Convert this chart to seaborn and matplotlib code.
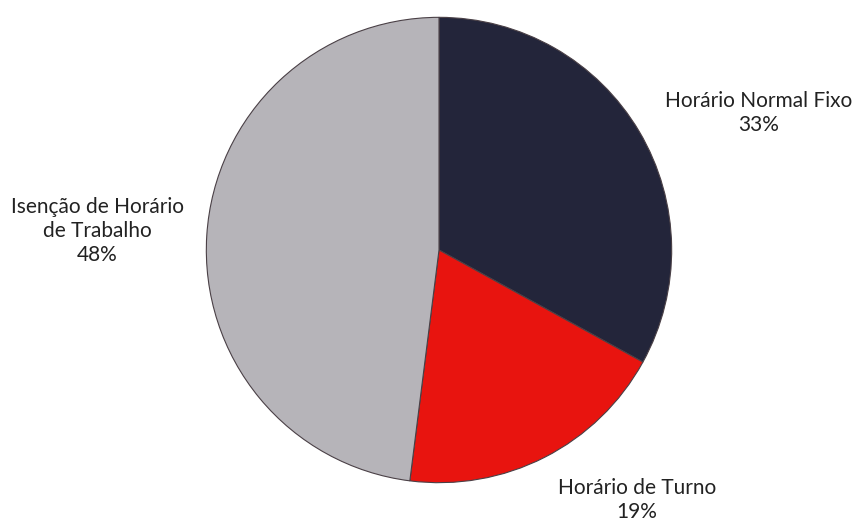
import matplotlib
matplotlib.use("Agg")
import matplotlib.pyplot as plt
import seaborn as sns

categories = ["Horário Normal Fixo", "Horário de Turno", "Isenção de Horário\nde Trabalho"]
shares = [33, 19, 48]
colors = ["#23253a", "#e8140f", "#b6b4b9"]

sns.set_theme(style="white")
plt.rcParams["font.family"] = ["Lato", "DejaVu Sans"]

W, H = 855, 524
fig = plt.figure(figsize=(W / 100, H / 100), dpi=100)
cx, cy, r = 439, 250, 235
ax = fig.add_axes([(cx - r) / W, (H - cy - r) / H, 2 * r / W, 2 * r / H])

wedges, _ = ax.pie(
    shares,
    colors=colors,
    startangle=90,
    counterclock=False,
    radius=1.0,
    wedgeprops=dict(edgecolor="#4a4046", linewidth=0.8),
)
ax.set_xlim(-1.01, 1.01)
ax.set_ylim(-1.01, 1.01)
ax.set_aspect("equal")
ax.axis("off")

# label anchors in pixel space (center of text block)
label_pos = [(759, 113), (637, 500), (97, 231)]
for name, val, (px, py) in zip(categories, shares, label_pos):
    fig.text(px / W, 1 - py / H, f"{name}\n{val}%", ha="center", va="center",
             fontsize=15, color="#222222", linespacing=1.25)

fig.savefig("out.png", dpi=100)
